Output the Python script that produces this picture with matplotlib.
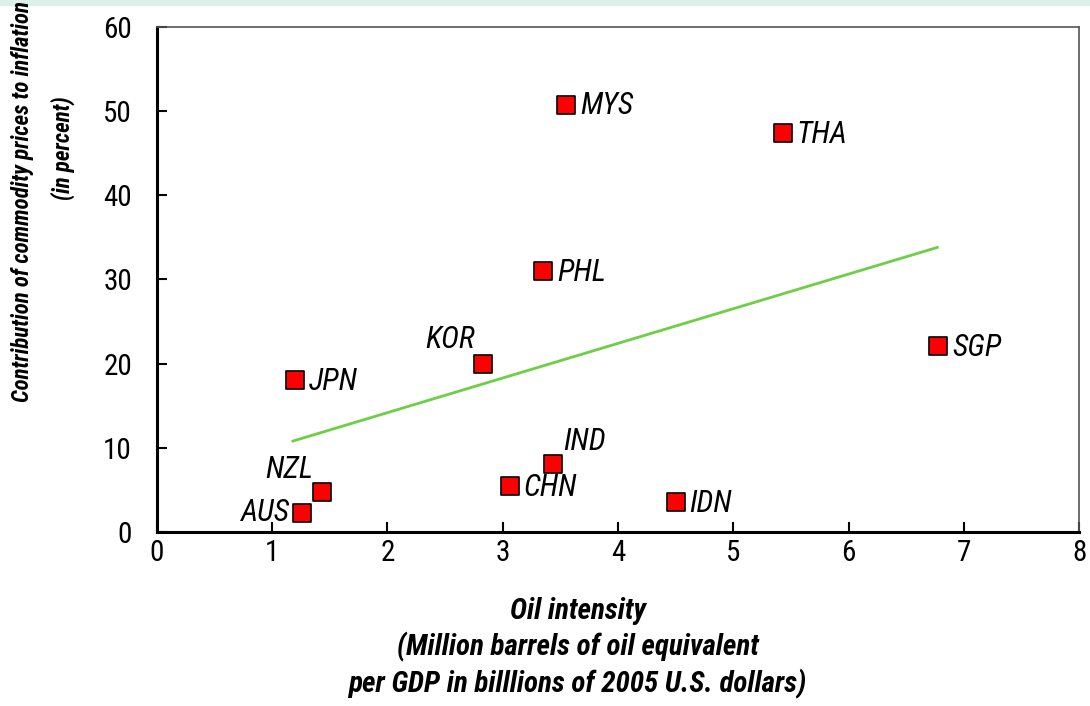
import matplotlib
matplotlib.use("Agg")
import matplotlib.pyplot as plt

plt.rcParams["font.family"] = ["Roboto Condensed", "DejaVu Sans"]

countries = ["AUS", "NZL", "JPN", "KOR", "CHN", "IND", "MYS", "THA", "PHL", "SGP", "IDN"]
oil_intensity = [1.26, 1.43, 1.20, 2.83, 3.06, 3.44, 3.55, 5.43, 3.35, 6.78, 4.50]
commodity_contrib = [2.3, 4.8, 18.0, 20.0, 5.5, 8.1, 50.7, 47.4, 31.0, 22.1, 3.6]
trend_x = [1.18, 6.77]
trend_y = [10.8, 33.8]

# label offsets in points (dx, dy, ha)
offsets = {
    "AUS": (-9, 0, "right"), "NZL": (-6, 16, "right"), "JPN": (10, -1, "left"),
    "KOR": (-6, 17, "right"), "CHN": (10, -1, "left"), "IND": (7, 16, "left"),
    "MYS": (10, 0, "left"), "THA": (10, -1, "left"), "PHL": (10, -1, "left"),
    "SGP": (10, -1, "left"), "IDN": (10, -1, "left"),
}

fig = plt.figure(figsize=(10.9, 7.06), dpi=100)
fig.patches.append(plt.Rectangle((0, 0.993), 1, 0.007, transform=fig.transFigure,
                                 color="#dbf0e8", zorder=0))
ax = fig.add_axes([0.144, 0.2465, 0.846, 0.7155])

ax.plot(trend_x, trend_y, color="#6ccf45", lw=2, zorder=2)
ax.scatter(oil_intensity, commodity_contrib, marker="s", s=150, c="#ff0000",
           edgecolors="black", linewidths=1.2, zorder=3)
for name, x, y in zip(countries, oil_intensity, commodity_contrib):
    dx, dy, ha = offsets[name]
    ax.annotate(name, (x, y), xytext=(dx, dy), textcoords="offset points",
                ha=ha, va="center", fontsize=22, style="italic")

ax.set_xlim(0, 8)
ax.set_ylim(0, 60)
ax.set_xticks(range(0, 9))
ax.set_yticks(range(0, 61, 10))
ax.tick_params(direction="in", length=7, width=1.5, labelsize=21)
ax.tick_params(axis="x", pad=5)
ax.tick_params(axis="y", pad=18)
for s in ["left", "bottom"]:
    ax.spines[s].set_linewidth(2.2)
for s in ["top", "right"]:
    ax.spines[s].set_linewidth(1.2)
    ax.spines[s].set_color("#555555")

fig.text(0.530, 0.082, "Oil intensity\n(Million barrels of oil equivalent\nper GDP in billlions of 2005 U.S. dollars)",
         fontsize=21, style="italic", fontweight="bold", ha="center", va="center",
         linespacing=1.3)
fig.text(0.021, 0.715, "Contribution of commodity prices to inflation",
         fontsize=16.5, style="italic", fontweight="bold", rotation=90, ha="center", va="center")
fig.text(0.058, 0.79, "(in percent)",
         fontsize=16.5, style="italic", fontweight="bold", rotation=90, ha="center", va="center")

fig.savefig("out.png", dpi=100)
